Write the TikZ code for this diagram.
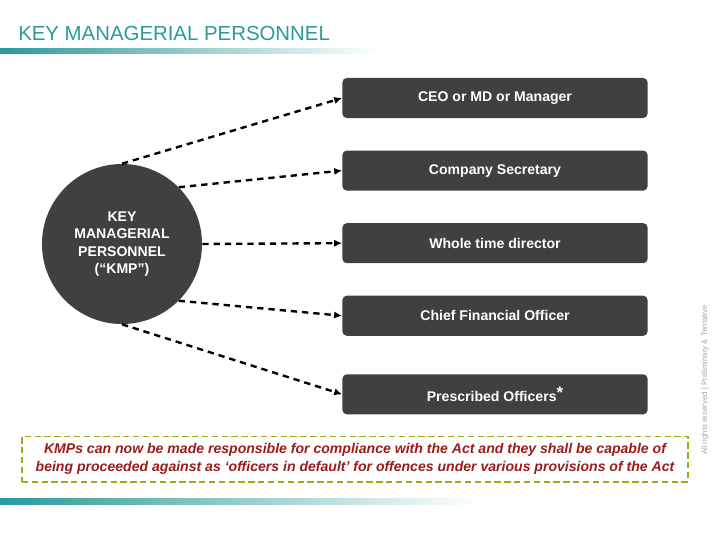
\documentclass[tikz,border=0pt]{standalone}
\usepackage{fontspec}
\setmainfont{Liberation Sans}
\usetikzlibrary{arrows.meta,positioning}
\definecolor{kmpteal}{HTML}{2A9A9A}
\definecolor{kmpgray}{HTML}{404040}
\definecolor{kmpolive}{HTML}{9AAC1E}
\definecolor{kmpred}{HTML}{9B1B1B}
\definecolor{kmplight}{HTML}{A8A8A8}

\begin{document}
\begin{tikzpicture}[
    x=0.025cm, y=-0.025cm,
    node distance=0.8cm,
    rolebox/.style={rectangle, fill=kmpgray, rounded corners=3pt,
                    minimum width=7.625cm, minimum height=1cm,
                    text=white, font=\fontsize{10}{12}\selectfont\bfseries},
    hub/.style={circle, fill=kmpgray, minimum size=4cm, inner sep=0pt,
                text=white, align=center,
                font=\fontsize{10}{12.5}\selectfont\bfseries},
    arr/.style={-{Latex[length=2mm,width=1.8mm]}, line width=1.7pt,
                dash pattern=on 4.5pt off 3.5pt},
    notebox/.style={rectangle, draw=kmpolive, line width=1.4pt,
                    dash pattern=on 4.5pt off 2.5pt,
                    minimum width=16.65cm, minimum height=1.125cm,
                    align=center, text=kmpred,
                    font=\fontsize{10}{13}\selectfont\bfseries\itshape}
]
\useasboundingbox (0,0) rectangle (720,540);

% header and footer bars
\shade[left color=kmpteal, right color=white] (0,48) rectangle (380,53);
\shade[left color=kmpteal, right color=white] (0,498) rectangle (480,504);
\node[anchor=west, inner sep=0pt, text=kmpteal,
      font=\fontsize{14.5}{16}\selectfont] (title) at (18,33) {KEY MANAGERIAL PERSONNEL};

% the roles
\node[rolebox] (ceo) at (495,98) {CEO or MD or Manager};
\node[rolebox, below=of ceo] (cs) {Company Secretary};
\node[rolebox, below=of cs] (wtd) {Whole time director};
\node[rolebox, below=of wtd] (cfo) {Chief Financial Officer};
\node[rolebox, below=0.95cm of cfo] (po) {Prescribed Officers\raisebox{0.45ex}{\large *}};

\node[hub] (kmp) at (122,244) {KEY\\MANAGERIAL\\PERSONNEL\\(“KMP”)};

\draw[arr] (kmp.90) -- (ceo.west);
\draw[arr] (kmp.45) -- (cs.west);
\draw[arr] (kmp.0) -- (wtd.west);
\draw[arr] (kmp.-45) -- (cfo.west);
\draw[arr] (kmp.-90) -- (po.west);

\node[notebox] (note) at (355,459) {KMPs can now be made responsible for compliance with the Act and they shall be capable of\\
being proceeded against as ‘officers in default’ for offences under various provisions of the Act};

\node[rotate=90, text=kmplight, font=\fontsize{5.6}{6.5}\selectfont] (rights) at (705,380)
    {All rights reserved | Preliminary \& Tentative};
\end{tikzpicture}
\end{document}
